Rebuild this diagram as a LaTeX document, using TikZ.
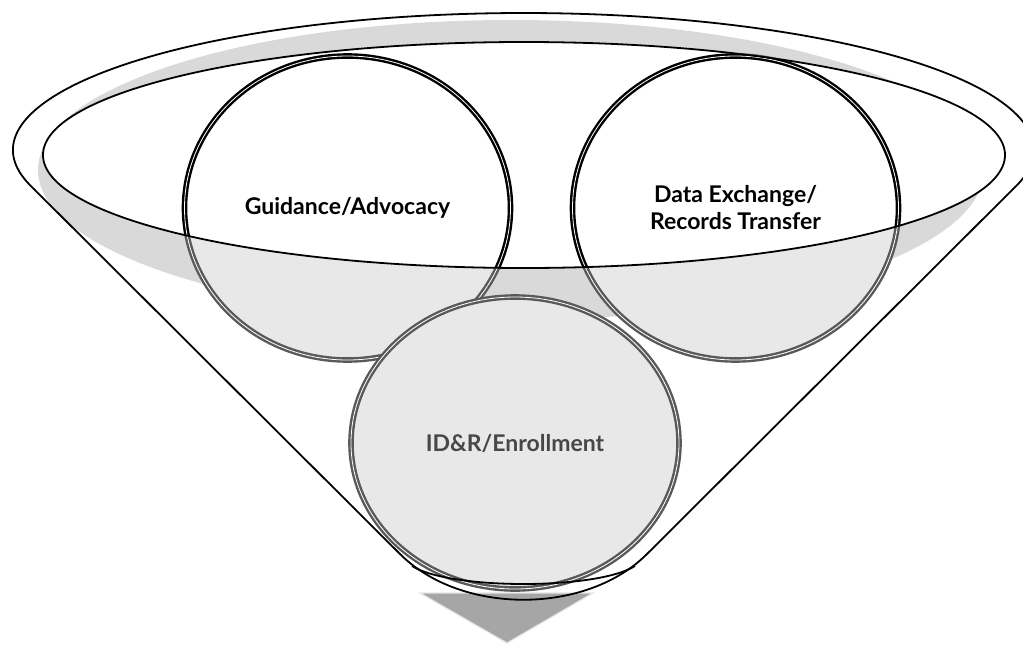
\documentclass[tikz,border=0pt]{standalone}
\usepackage{fontspec}
\setmainfont{Lato}
\usepackage{tikz}
\usetikzlibrary{shapes.geometric}

\begin{document}
\begin{tikzpicture}[
  x=0.5pt,y=0.5pt,
  stage/.style={ellipse,draw=low,double=white,double distance=0.4pt,line width=1.2pt,
    fill=soft,inner sep=0pt,align=center,font=\fontsize{11.5}{13.5}\selectfont\bfseries},
  stage top/.style={stage,draw=black,fill=white},
  rim/.style={line width=0.9pt,line join=round}]

  \definecolor{low}{HTML}{595959}
  \definecolor{soft}{HTML}{E8E8E8}
  \definecolor{band}{HTML}{D9D9D9}
  \definecolor{spout}{HTML}{A6A6A6}

  \useasboundingbox (0,0) rectangle (1023,645);

  % ------------------- arrow and shadow ----------------------
  \draw[fill=spout,draw=white!90!black,line width=0.6pt] (420,52) -- (593,52) -- (507,2) -- cycle;
  \fill[band] (511,475) ellipse [x radius=473, y radius=150];

  % ------------------- stages ----------------------
  \node[stage,minimum width=163pt,minimum height=152pt] (guide) at (347.5,437) {Guidance/Advocacy};
  \node[stage,minimum width=163pt,minimum height=152pt] (data) at (735.5,437) {Data Exchange/\\Records Transfer};
  \node[stage,minimum width=164pt,minimum height=146pt,text=low!80!black] (enrol) at (515,202) {ID\&R/Enrollment};

  \begin{scope}
    \clip (524,490) ellipse [x radius=481, y radius=113];
    \fill[white] (524,490) ellipse [x radius=481, y radius=113];
    \node[stage top,minimum width=163pt,minimum height=152pt] (guideup) at (guide) {Guidance/Advocacy};
    \node[stage top,minimum width=163pt,minimum height=152pt] (dataup) at (data) {Data Exchange/\\Records Transfer};
  \end{scope}

  % ------------------- funnel ----------------------
  \draw[rim] (524,490) ellipse [x radius=481, y radius=113];
  \draw[rim] (400,91) -- (30.4,459.5)
    arc [start angle=195, end angle=-15, x radius=510.5, y radius=137]
    -- (647,91) .. controls (586,30) and (461,30) .. (400,91);
  \draw[rim] (412,79) .. controls (450,55) and (597,55) .. (635,79);
\end{tikzpicture}
\end{document}
